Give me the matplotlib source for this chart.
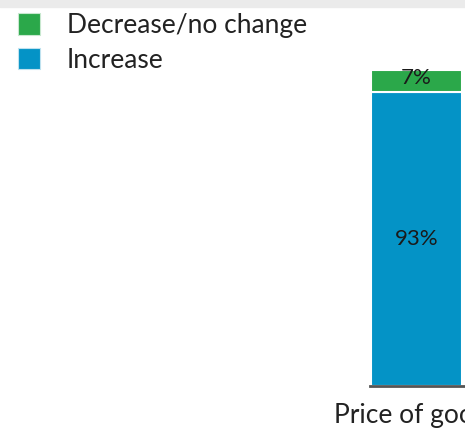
import matplotlib.pyplot as plt
from matplotlib.patches import Patch, Rectangle

plt.rcParams['font.family'] = ['Lato', 'DejaVu Sans']

categories = ["Price of goods"]
increase = [93]
decrease = [7]
labels = ["Decrease/no change", "Increase"]

green = "#2ba84a"
blue = "#0493c6"

fig = plt.figure(figsize=(4.65, 4.34), dpi=100)

# grey strip along the top edge
fig.patches.append(Rectangle((0, 427 / 434), 1, 7 / 434, transform=fig.transFigure,
                             color="#ebebeb", zorder=0))

ax = fig.add_axes([370 / 465, 48 / 434, 110 / 465, 316 / 434])

x = range(len(categories))
ax.bar(x, increase, width=0.8, color=blue, edgecolor="white", linewidth=1.5)
ax.bar(x, decrease, bottom=increase, width=0.8, color=green,
       edgecolor="white", linewidth=1.5)

for i in x:
    ax.text(i, increase[i] / 2, f"{increase[i]}%", ha="center", va="center",
            fontsize=16, color="#1a1a1a")
    ax.text(i, increase[i] + decrease[i] / 2 + 1, f"{decrease[i]}%",
            ha="center", va="center", fontsize=16, color="#1a1a1a")

ax.set_xlim(-0.41, -0.41 + 110 / 113.75)
ax.set_ylim(0, 100)
ax.set_xticks(list(x))
ax.set_xticklabels(categories, fontsize=19, color="#222222")
ax.tick_params(axis="x", length=0, pad=12)
ax.set_yticks([])
for side in ["top", "right", "left"]:
    ax.spines[side].set_visible(False)
ax.spines["bottom"].set_color("#555555")
ax.spines["bottom"].set_linewidth(2)

handles = [Patch(facecolor=green, edgecolor="#c8e8cf", linewidth=0.8),
           Patch(facecolor=blue, edgecolor="#bfe2ef", linewidth=0.8)]
fig.legend(handles, labels, loc="upper left", bbox_to_anchor=(0.016, 0.994),
           frameon=False, fontsize=19, handlelength=0.85, handleheight=0.85,
           handletextpad=1.0, labelspacing=0.36, borderaxespad=0,
           labelcolor="#222222")

fig.savefig("out.png", dpi=100)
